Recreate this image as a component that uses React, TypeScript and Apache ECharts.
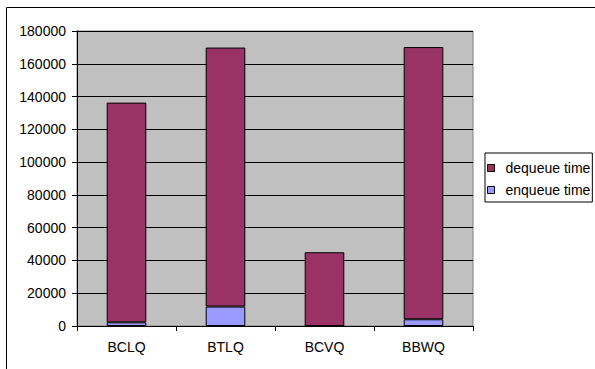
import React, { useEffect, useRef } from "react";
import * as echarts from "echarts";

const categories = ["BCLQ", "BTLQ", "BCVQ", "BBWQ"];
const enqueueTime = [2250, 11850, 0, 4100];
const dequeueTime = [134050, 158050, 45000, 166100];
const yTicks = { min: 0, max: 180000, interval: 20000 };

export default function App() {
  const ref = useRef<HTMLDivElement>(null);
  useEffect(() => {
    if (!ref.current) return;
    const chart = echarts.init(ref.current, undefined, { renderer: "svg" });
    const font = "'Liberation Sans', Arial, sans-serif";
    chart.setOption({
      animation: false,
      backgroundColor: "#ffffff",
      textStyle: { fontFamily: font },
      graphic: [
        {
          type: "rect",
          shape: { x: 6.5, y: 7.5, width: 620, height: 400 },
          style: { fill: "none", stroke: "#000", lineWidth: 1 },
          silent: true,
          z: 100,
        },
      ],
      grid: {
        left: 77,
        top: 31,
        width: 396,
        height: 295,
        show: true,
        backgroundColor: "#C0C0C0",
        borderColor: "#808080",
        borderWidth: 1,
      },
      legend: {
        data: ["dequeue time", "enqueue time"],
        orient: "vertical",
        left: 485,
        top: 153,
        itemWidth: 7,
        itemHeight: 7,
        itemGap: 8,
        padding: [8, 2, 5, 2],
        borderColor: "#000",
        borderWidth: 1,
        icon: "rect",
        itemStyle: { borderColor: "#000", borderWidth: 1 },
        textStyle: {
          fontFamily: font,
          fontSize: 14,
          color: "#000",
          lineHeight: 14,
          padding: [0, 0, 0, 6],
        },
      },
      xAxis: {
        type: "category",
        data: categories,
        axisLine: { show: true, lineStyle: { color: "#000", width: 1 } },
        axisTick: { show: true, length: 5, lineStyle: { color: "#000" } },
        axisLabel: { fontFamily: font, fontSize: 14, color: "#000", margin: 14 },
        splitLine: { show: false },
      },
      yAxis: {
        type: "value",
        min: yTicks.min,
        max: yTicks.max,
        interval: yTicks.interval,
        axisLine: { show: true, lineStyle: { color: "#000", width: 1 } },
        axisTick: { show: true, length: 5, lineStyle: { color: "#000" } },
        axisLabel: {
          fontFamily: font,
          fontSize: 14,
          color: "#000",
          margin: 11,
          formatter: (v: number) => String(v),
        },
        splitLine: { show: true, lineStyle: { color: "#000", width: 1 } },
      },
      series: [
        {
          name: "enqueue time",
          type: "bar",
          stack: "total",
          barWidth: "40%",
          data: enqueueTime,
          itemStyle: { color: "#9999FF", borderColor: "#000", borderWidth: 1 },
        },
        {
          name: "dequeue time",
          type: "bar",
          stack: "total",
          barWidth: "40%",
          data: dequeueTime,
          itemStyle: { color: "#993366", borderColor: "#000", borderWidth: 1 },
        },
      ],
    });
    return () => chart.dispose();
  }, []);
  return (
    <div
      ref={ref}
      style={{ position: "fixed", left: 0, top: 0, width: 595, height: 369 }}
    />
  );
}
